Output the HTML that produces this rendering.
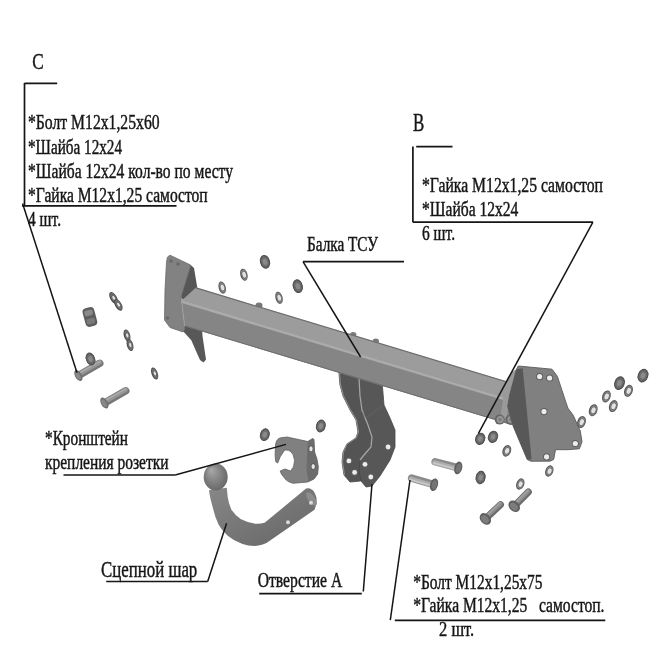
<!DOCTYPE html>
<html><head><meta charset="utf-8"><style>
html,body{margin:0;padding:0;background:#fff;}
svg{display:block;filter:grayscale(1);}
text{font-family:"Liberation Serif",serif;fill:#161616;stroke:#161616;stroke-width:0.45px;}
</style></head><body>
<svg width="650" height="650" viewBox="0 0 650 650">
<rect width="650" height="650" fill="#fff"/>
<g transform="rotate(-15 222.2 287.6)"><ellipse cx="222.2" cy="287.6" rx="3.6" ry="6.2" fill="#5a5a5a"/><ellipse cx="222.39999999999998" cy="287.6" rx="2.6" ry="5.2" fill="#848484"/><ellipse cx="222.5" cy="287.6" rx="2.3" ry="3.6" fill="#606060"/><ellipse cx="222.5" cy="287.6" rx="1.8" ry="3.1" fill="#e2e2e2"/></g>
<g transform="rotate(-15 243.9 274.7)"><ellipse cx="243.9" cy="274.7" rx="3.6" ry="6.2" fill="#5a5a5a"/><ellipse cx="244.1" cy="274.7" rx="2.6" ry="5.2" fill="#848484"/><ellipse cx="244.20000000000002" cy="274.7" rx="2.3" ry="3.6" fill="#606060"/><ellipse cx="244.20000000000002" cy="274.7" rx="1.8" ry="3.1" fill="#e2e2e2"/></g>
<g transform="rotate(-15 265 261.8)"><ellipse cx="265" cy="261.8" rx="5" ry="7" fill="#505050"/><polygon points="269.0,265.1 265.0,268.3 261.0,265.1 261.0,258.5 265.0,255.3 269.0,258.5" fill="#6c6c6c" stroke="#555" stroke-width="0.8"/><ellipse cx="265" cy="261.8" rx="2.25" ry="3.15" fill="#8a8a8a"/></g>
<g transform="rotate(-15 279 297.8)"><ellipse cx="279" cy="297.8" rx="3.6" ry="6.2" fill="#5a5a5a"/><ellipse cx="279.2" cy="297.8" rx="2.6" ry="5.2" fill="#848484"/><ellipse cx="279.3" cy="297.8" rx="2.3" ry="3.6" fill="#606060"/><ellipse cx="279.3" cy="297.8" rx="1.8" ry="3.1" fill="#e2e2e2"/></g>
<g transform="rotate(-15 297.8 286.2)"><ellipse cx="297.8" cy="286.2" rx="5" ry="7" fill="#505050"/><polygon points="301.8,289.5 297.8,292.7 293.8,289.5 293.8,282.9 297.8,279.7 301.8,282.9" fill="#6c6c6c" stroke="#555" stroke-width="0.8"/><ellipse cx="297.8" cy="286.2" rx="2.25" ry="3.15" fill="#8a8a8a"/></g>
<ellipse cx="259" cy="305.5" rx="3.5" ry="3" fill="#777"/>
<ellipse cx="353.2" cy="334.5" rx="3.2" ry="2.6" fill="#7a7a7a"/>
<ellipse cx="375.8" cy="341" rx="3.2" ry="2.6" fill="#7a7a7a"/>
<polygon points="181.7,322.0 195.0,325.0 202.0,328.0 202.5,336.0 206.0,359.5 203.5,362.5 200.0,360.0 196.0,351.0 191.3,340.2 182.0,330.0" fill="#585858" stroke="none" stroke-width="0" stroke-linejoin="round" />
<polygon points="189.5,264.0 194.0,268.0 197.5,289.0 183.0,300.0 181.0,297.0" fill="#565656" stroke="none" stroke-width="0" stroke-linejoin="round" />
<polygon points="170.0,255.2 189.5,264.5 190.5,266.5 181.0,297.0 185.0,329.0 183.0,332.0 170.0,327.5 164.5,320.0 165.0,290.0 166.5,262.0 167.5,257.0" fill="#828282" stroke="#6a6a6a" stroke-width="0.8" stroke-linejoin="round" />
<circle cx="171" cy="261" r="1.8" fill="#6a6a6a"/><circle cx="178" cy="264" r="1.8" fill="#6a6a6a"/><circle cx="167.5" cy="318" r="1.8" fill="#6a6a6a"/>
<polygon points="338.5,368.0 361.0,372.0 372.0,420.0 378.0,445.0 368.0,480.0 356.0,481.5 350.0,482.0 344.0,475.0 342.0,462.0 343.0,452.0 347.0,444.0 356.0,438.0 358.0,432.0 356.0,420.0 350.0,410.0 343.0,396.0 340.0,385.0" fill="#545454" stroke="#484848" stroke-width="0.8" stroke-linejoin="round" />
<polygon points="359.0,374.0 382.0,381.0 384.0,405.0 390.0,418.0 395.0,430.0 395.0,447.0 390.0,460.0 380.0,476.0 372.0,486.0 366.0,487.0 361.0,481.0 359.0,470.0 360.0,460.0 364.0,455.0 371.0,447.0 372.0,437.0 368.0,425.0 362.0,410.0 360.0,396.0" fill="#575757" stroke="#484848" stroke-width="0.8" stroke-linejoin="round" />
<polyline points="339.5,372 340.5,385 343.5,396 350.5,410 356.5,420 358.5,432 356,438 347,444 343.5,452 342.5,462 344.5,475" fill="none" stroke="#8c8c8c" stroke-width="1.1"/>
<polyline points="359,378 360,396 362,410 368,425 372,437 371,447 364,455 360,460" fill="none" stroke="#a5a5a5" stroke-width="1.3"/>
<polyline points="362,412 366,418 382,406" fill="none" stroke="#666" stroke-width="0.8"/>
<circle cx="348.9" cy="460.9" r="3.4" fill="#5e5e5e"/><circle cx="348.9" cy="460.9" r="2.4" fill="#ececec"/>
<circle cx="354.6" cy="472.4" r="3.4" fill="#5e5e5e"/><circle cx="354.6" cy="472.4" r="2.4" fill="#ececec"/>
<circle cx="365" cy="464.3" r="3.4" fill="#5e5e5e"/><circle cx="365" cy="464.3" r="2.4" fill="#ececec"/>
<circle cx="370.8" cy="477" r="3.4" fill="#5e5e5e"/><circle cx="370.8" cy="477" r="2.4" fill="#ececec"/>
<circle cx="388.1" cy="447" r="3.4" fill="#5e5e5e"/><circle cx="388.1" cy="447" r="2.4" fill="#ececec"/>
<polygon points="196.0,287.6 512.0,383.1 512.0,400.6 181.5,300.8" fill="#9c9c9c" stroke="none" stroke-width="0" stroke-linejoin="round" />
<polygon points="181.5,300.8 512.0,400.6 512.0,425.1 184.6,326.2" fill="#858585" stroke="none" stroke-width="0" stroke-linejoin="round" />
<line x1="196" y1="287.932" x2="512" y2="383.36400000000003" stroke="#6e6e6e" stroke-width="1.2"/>
<line x1="181.5" y1="301.753" x2="512" y2="401.56399999999996" stroke="#ababab" stroke-width="2.2"/>
<line x1="184.6" y1="325.6892" x2="512" y2="424.56399999999996" stroke="#6e6e6e" stroke-width="1.0"/>
<line x1="181.5" y1="300.253" x2="184.6" y2="326.1892" stroke="#a4a4a4" stroke-width="1.0"/>
<polygon points="504.0,383.5 512.0,372.0 516.5,369.2 509.5,395.7 507.7,410.0 506.0,421.0 500.0,419.0 503.0,400.0" fill="#9a9a9a" stroke="none" stroke-width="0" stroke-linejoin="round" />
<circle cx="499.7" cy="419.6" r="5" fill="#656565"/><circle cx="500.2" cy="419.6" r="3.6" fill="#949494"/><circle cx="500.2" cy="419.6" r="1.6" fill="#7a7a7a"/>
<circle cx="510.4" cy="419.6" r="5" fill="#656565"/><circle cx="510.9" cy="419.6" r="3.6" fill="#949494"/><circle cx="510.9" cy="419.6" r="1.6" fill="#7a7a7a"/>
<polygon points="518.3,366.0 552.0,369.2 557.3,376.2 566.1,402.8 567.9,408.1 573.2,415.2 580.3,431.1 582.0,441.7 579.4,448.8 567.9,449.7 555.5,449.7 553.7,459.4 550.2,461.2 530.7,461.2 527.2,459.4 513.0,425.8 507.7,406.3 509.5,395.7 516.5,369.2" fill="#808080" stroke="#5a5a5a" stroke-width="0.9" stroke-linejoin="round" />
<polygon points="516.5,369.2 522.7,368.3 531.6,459.4 527.2,459.4 513.0,425.8 507.7,406.3 509.5,395.7" fill="#585858" stroke="none" stroke-width="0" stroke-linejoin="round" />
<circle cx="539.6" cy="376.6" r="3.6" fill="#5e5e5e"/><circle cx="539.6" cy="376.6" r="2.6" fill="#ececec"/>
<circle cx="549.6" cy="378" r="3.6" fill="#5e5e5e"/><circle cx="549.6" cy="378" r="2.6" fill="#ececec"/>
<circle cx="544" cy="411.6" r="3.6" fill="#5e5e5e"/><circle cx="544" cy="411.6" r="2.6" fill="#ececec"/>
<circle cx="575.3" cy="443.5" r="3.6" fill="#5e5e5e"/><circle cx="575.3" cy="443.5" r="2.6" fill="#ececec"/>
<circle cx="546.6" cy="456.8" r="3.6" fill="#5e5e5e"/><circle cx="546.6" cy="456.8" r="2.6" fill="#ececec"/>
<path d="M275.8,443.3 Q277,438.5 280.8,437.8 L287,437 L307.8,441.5 L312.8,438.4 L314,439.6 L314.6,452 L317,459.3 L318.3,466.7 L317.7,474 L314,479 L307.8,482 L293,483.3 Q288,482 285.7,479.6 L281.4,474 L280.2,471 L285,469 L290.6,471 Q293.7,467 293.7,465.5 Q295,460 294.3,459.3 Q293.5,454 291.2,452 Q288.5,449.5 285.7,450 Q283,451 282.6,453.2 L280.2,456.8 L277.7,463 L275.8,461.8 Q274.8,456 275.2,452 Z" fill="#808080" stroke="#606060" stroke-width="0.8"/>
<path d="M307.8,441.5 L312.8,438.4 L314,439.6 L314.6,452 L317,459.3 L318.3,466.7 L317.7,474 L314,479 L308.5,481.5 L306.5,470 L307,455 Z" fill="#6c6c6c"/>
<ellipse cx="311" cy="448.8" rx="2.4" ry="3.3" fill="#5a5a5a"/><ellipse cx="311" cy="448.8" rx="1.7" ry="2.6" fill="#e6e6e6"/>
<ellipse cx="313.2" cy="466.5" rx="2.4" ry="3.3" fill="#5a5a5a"/><ellipse cx="313.2" cy="466.5" rx="1.7" ry="2.6" fill="#e6e6e6"/>
<defs><linearGradient id="gh" x1="0" y1="0" x2="1" y2="1"><stop offset="0" stop-color="#878787"/><stop offset="1" stop-color="#656565"/></linearGradient><radialGradient id="gb" cx="0.5" cy="0.5" r="0.6" fx="0.3" fy="0.22"><stop offset="0" stop-color="#aaaaaa"/><stop offset="0.45" stop-color="#888888"/><stop offset="1" stop-color="#626262"/></radialGradient></defs>
<path d="M209.2,490 L209.2,492.3 Q210.5,500 212.9,508 Q215,517 218.5,524.6 Q222,531 227.7,535.7 Q234,541 242.5,544 Q250,546.5 257.2,545.8 Q262,545 266.5,543 L314.5,509.8 Q317.5,503 316.3,497 Q314.5,491 311.7,489.5 Q309,487.5 306.1,488.6 L264.6,522.8 Q260,524 255.4,523.7 Q247,522.5 240.6,519 Q235,515 231.4,509.8 Q228.5,503 227.7,496.9 L226.8,487.7 Z" fill="url(#gh)"/>
<ellipse cx="215.7" cy="477" rx="12" ry="13.4" fill="url(#gb)"/>
<ellipse cx="311.5" cy="499" rx="3.5" ry="8" transform="rotate(-35 311.5 499)" fill="#8c8c8c"/>
<circle cx="311" cy="502.8" r="2" fill="#d8d8d8"/>
<circle cx="288" cy="522.2" r="2" fill="#d8d8d8"/>
<g transform="rotate(-15 89.9 317)"><rect x="83.9" y="307.5" width="12" height="19" rx="4" fill="#5e5e5e"/><rect x="85.5" y="310" width="8.5" height="5.5" rx="2" fill="#8a8a8a"/><rect x="85.5" y="318.5" width="8.5" height="5.5" rx="2" fill="#7a7a7a"/></g>
<g transform="rotate(-30 113.5 298)"><ellipse cx="113.5" cy="298" rx="3.3" ry="6.5" fill="#4e4e4e"/><ellipse cx="113.7" cy="298" rx="2.3" ry="5.5" fill="#707070"/><ellipse cx="113.8" cy="298" rx="1.6549999999999998" ry="2.775" fill="#606060"/><ellipse cx="113.8" cy="298" rx="1.1549999999999998" ry="2.275" fill="#e2e2e2"/></g>
<g transform="rotate(-30 118.3 304.8)"><ellipse cx="118.3" cy="304.8" rx="3.3" ry="6.5" fill="#4e4e4e"/><ellipse cx="118.5" cy="304.8" rx="2.3" ry="5.5" fill="#707070"/><ellipse cx="118.6" cy="304.8" rx="1.6549999999999998" ry="2.775" fill="#606060"/><ellipse cx="118.6" cy="304.8" rx="1.1549999999999998" ry="2.275" fill="#e2e2e2"/></g>
<g transform="rotate(-15 127 335.5)"><ellipse cx="127" cy="335.5" rx="3.2" ry="6.2" fill="#4e4e4e"/><ellipse cx="127.2" cy="335.5" rx="2.2" ry="5.2" fill="#707070"/><ellipse cx="127.3" cy="335.5" rx="1.6199999999999999" ry="2.67" fill="#606060"/><ellipse cx="127.3" cy="335.5" rx="1.1199999999999999" ry="2.17" fill="#e2e2e2"/></g>
<g transform="rotate(-15 130 345)"><ellipse cx="130" cy="345" rx="3.2" ry="6.2" fill="#4e4e4e"/><ellipse cx="130.2" cy="345" rx="2.2" ry="5.2" fill="#707070"/><ellipse cx="130.3" cy="345" rx="1.6199999999999999" ry="2.67" fill="#606060"/><ellipse cx="130.3" cy="345" rx="1.1199999999999999" ry="2.17" fill="#e2e2e2"/></g>
<g transform="rotate(-20 154.6 373.5)"><ellipse cx="154.6" cy="373.5" rx="3.1" ry="6.3" fill="#4e4e4e"/><ellipse cx="154.79999999999998" cy="373.5" rx="2.1" ry="5.3" fill="#707070"/><ellipse cx="154.9" cy="373.5" rx="1.585" ry="2.7049999999999996" fill="#606060"/><ellipse cx="154.9" cy="373.5" rx="1.085" ry="2.2049999999999996" fill="#e2e2e2"/></g>
<g transform="translate(77.5 376) rotate(-29.6)"><rect x="0" y="-3.75" width="29.33428028774526" height="7.5" rx="3.75" fill="#777777"/><rect x="0.5" y="-3.15" width="27.83428028774526" height="4.5" rx="2.25" fill="#969696"/><rect x="1" y="-2.55" width="26.33428028774526" height="1.65" rx="0.75" fill="#acacac"/><ellipse cx="1" cy="0" rx="3.3000000000000003" ry="6" fill="#6e6e6e"/><ellipse cx="0.6" cy="0" rx="2.1780000000000004" ry="4.199999999999999" fill="#888888"/></g>
<g transform="rotate(-20 90.5 359)"><ellipse cx="90.5" cy="359" rx="4.6" ry="6.6" fill="#505050"/><polygon points="94.2,362.1 90.5,365.1 86.8,362.1 86.8,355.9 90.5,352.9 94.2,355.9" fill="#6c6c6c" stroke="#555" stroke-width="0.8"/><ellipse cx="90.5" cy="359" rx="2.07" ry="2.9699999999999998" fill="#8a8a8a"/></g>
<g transform="translate(103.5 403.5) rotate(-29.6)"><rect x="0" y="-3.75" width="29.33428028774526" height="7.5" rx="3.75" fill="#777777"/><rect x="0.5" y="-3.15" width="27.83428028774526" height="4.5" rx="2.25" fill="#969696"/><rect x="1" y="-2.55" width="26.33428028774526" height="1.65" rx="0.75" fill="#acacac"/><ellipse cx="1" cy="0" rx="3.3000000000000003" ry="6" fill="#6e6e6e"/><ellipse cx="0.6" cy="0" rx="2.1780000000000004" ry="4.199999999999999" fill="#888888"/></g>
<g transform="rotate(20 581.5 422)"><ellipse cx="581.5" cy="422" rx="4.2" ry="6.2" fill="#5a5a5a"/><ellipse cx="581.7" cy="422" rx="3.2" ry="5.2" fill="#848484"/><ellipse cx="581.8" cy="422" rx="2.6" ry="3.6" fill="#606060"/><ellipse cx="581.8" cy="422" rx="2.1" ry="3.1" fill="#e2e2e2"/></g>
<g transform="rotate(20 593.2 410.2)"><ellipse cx="593.2" cy="410.2" rx="4.2" ry="6.2" fill="#5a5a5a"/><ellipse cx="593.4000000000001" cy="410.2" rx="3.2" ry="5.2" fill="#848484"/><ellipse cx="593.5" cy="410.2" rx="2.6" ry="3.6" fill="#606060"/><ellipse cx="593.5" cy="410.2" rx="2.1" ry="3.1" fill="#e2e2e2"/></g>
<g transform="rotate(20 606.4 396.4)"><ellipse cx="606.4" cy="396.4" rx="4.2" ry="6.2" fill="#5a5a5a"/><ellipse cx="606.6" cy="396.4" rx="3.2" ry="5.2" fill="#848484"/><ellipse cx="606.6999999999999" cy="396.4" rx="2.6" ry="3.6" fill="#606060"/><ellipse cx="606.6999999999999" cy="396.4" rx="2.1" ry="3.1" fill="#e2e2e2"/></g>
<g transform="rotate(20 613.3 406.1)"><ellipse cx="613.3" cy="406.1" rx="4.2" ry="6.2" fill="#5a5a5a"/><ellipse cx="613.5" cy="406.1" rx="3.2" ry="5.2" fill="#848484"/><ellipse cx="613.5999999999999" cy="406.1" rx="2.6" ry="3.6" fill="#606060"/><ellipse cx="613.5999999999999" cy="406.1" rx="2.1" ry="3.1" fill="#e2e2e2"/></g>
<g transform="rotate(20 619.5 383.2)"><ellipse cx="619.5" cy="383.2" rx="5.2" ry="7" fill="#505050"/><polygon points="623.7,386.5 619.5,389.7 615.3,386.5 615.3,379.9 619.5,376.7 623.7,379.9" fill="#6c6c6c" stroke="#555" stroke-width="0.8"/><ellipse cx="619.5" cy="383.2" rx="2.3400000000000003" ry="3.15" fill="#8a8a8a"/></g>
<g transform="rotate(20 628.5 390.8)"><ellipse cx="628.5" cy="390.8" rx="4.2" ry="6.2" fill="#5a5a5a"/><ellipse cx="628.7" cy="390.8" rx="3.2" ry="5.2" fill="#848484"/><ellipse cx="628.8" cy="390.8" rx="2.6" ry="3.6" fill="#606060"/><ellipse cx="628.8" cy="390.8" rx="2.1" ry="3.1" fill="#e2e2e2"/></g>
<g transform="rotate(20 643 375.6)"><ellipse cx="643" cy="375.6" rx="5.2" ry="7" fill="#505050"/><polygon points="647.2,378.9 643.0,382.1 638.8,378.9 638.8,372.3 643.0,369.1 647.2,372.3" fill="#6c6c6c" stroke="#555" stroke-width="0.8"/><ellipse cx="643" cy="375.6" rx="2.3400000000000003" ry="3.15" fill="#8a8a8a"/></g>
<g transform="rotate(20 480.2 438.8)"><ellipse cx="480.2" cy="438.8" rx="5" ry="6.2" fill="#505050"/><polygon points="484.2,441.7 480.2,444.6 476.2,441.7 476.2,435.9 480.2,433.0 484.2,435.9" fill="#6c6c6c" stroke="#555" stroke-width="0.8"/><ellipse cx="480.2" cy="438.8" rx="2.25" ry="2.79" fill="#8a8a8a"/></g>
<g transform="rotate(20 493 436.9)"><ellipse cx="493" cy="436.9" rx="5" ry="6.2" fill="#505050"/><polygon points="497.0,439.8 493.0,442.7 489.0,439.8 489.0,434.0 493.0,431.1 497.0,434.0" fill="#6c6c6c" stroke="#555" stroke-width="0.8"/><ellipse cx="493" cy="436.9" rx="2.25" ry="2.79" fill="#8a8a8a"/></g>
<g transform="rotate(20 506.8 450.8)"><ellipse cx="506.8" cy="450.8" rx="4.2" ry="6" fill="#5a5a5a"/><ellipse cx="507.0" cy="450.8" rx="3.2" ry="5.0" fill="#848484"/><ellipse cx="507.1" cy="450.8" rx="2.6" ry="3.5" fill="#606060"/><ellipse cx="507.1" cy="450.8" rx="2.1" ry="3.0" fill="#e2e2e2"/></g>
<g transform="rotate(20 549.3 471)"><ellipse cx="549.3" cy="471" rx="4" ry="5.8" fill="#5a5a5a"/><ellipse cx="549.5" cy="471" rx="3.0" ry="4.8" fill="#848484"/><ellipse cx="549.5999999999999" cy="471" rx="2.5" ry="3.4" fill="#606060"/><ellipse cx="549.5999999999999" cy="471" rx="2.0" ry="2.9" fill="#e2e2e2"/></g>
<g transform="rotate(10 480.6 477.5)"><ellipse cx="480.6" cy="477.5" rx="5" ry="6.8" fill="#505050"/><polygon points="484.6,480.7 480.6,483.8 476.6,480.7 476.6,474.3 480.6,471.2 484.6,474.3" fill="#6c6c6c" stroke="#555" stroke-width="0.8"/><ellipse cx="480.6" cy="477.5" rx="2.25" ry="3.06" fill="#8a8a8a"/></g>
<g transform="rotate(20 520.3 484)"><ellipse cx="520.3" cy="484" rx="4" ry="5.8" fill="#5a5a5a"/><ellipse cx="520.5" cy="484" rx="3.0" ry="4.8" fill="#848484"/><ellipse cx="520.5999999999999" cy="484" rx="2.5" ry="3.4" fill="#606060"/><ellipse cx="520.5999999999999" cy="484" rx="2.0" ry="2.9" fill="#e2e2e2"/></g>
<g transform="translate(459.2 468.2) rotate(-165.0)"><rect x="0" y="-3.75" width="28.671414335536344" height="7.5" rx="3.75" fill="#8a8a8a"/><rect x="0.5" y="-3.15" width="27.171414335536344" height="4.5" rx="2.25" fill="#aeaeae"/><rect x="1" y="-2.55" width="25.671414335536344" height="1.65" rx="0.75" fill="#c8c8c8"/><ellipse cx="1" cy="0" rx="3.9" ry="6.5" fill="#5e5e5e"/><ellipse cx="0.6" cy="0" rx="2.574" ry="4.55" fill="#757575"/></g>
<g transform="translate(435 485) rotate(-163.5)"><rect x="0" y="-3.75" width="28.160255680657446" height="7.5" rx="3.75" fill="#8a8a8a"/><rect x="0.5" y="-3.15" width="26.660255680657446" height="4.5" rx="2.25" fill="#aeaeae"/><rect x="1" y="-2.55" width="25.160255680657446" height="1.65" rx="0.75" fill="#c8c8c8"/><ellipse cx="1" cy="0" rx="3.9" ry="6.5" fill="#5e5e5e"/><ellipse cx="0.6" cy="0" rx="2.574" ry="4.55" fill="#757575"/></g>
<g transform="translate(484.6 519.6) rotate(-43.2)"><rect x="0" y="-3.5" width="25.255692427648853" height="7" rx="3.5" fill="#6c6c6c"/><rect x="0.5" y="-2.9" width="23.755692427648853" height="4.2" rx="2.1" fill="#8e8e8e"/><rect x="1" y="-2.3" width="22.255692427648853" height="1.54" rx="0.7000000000000001" fill="#a2a2a2"/><ellipse cx="1" cy="0" rx="4.875" ry="6.5" fill="#5f5f5f"/><ellipse cx="0.6" cy="0" rx="3.2175000000000002" ry="4.55" fill="#7c7c7c"/></g>
<g transform="translate(513.5 507) rotate(-45.2)"><rect x="0" y="-3.5" width="24.53670719554679" height="7" rx="3.5" fill="#6c6c6c"/><rect x="0.5" y="-2.9" width="23.03670719554679" height="4.2" rx="2.1" fill="#8e8e8e"/><rect x="1" y="-2.3" width="21.53670719554679" height="1.54" rx="0.7000000000000001" fill="#a2a2a2"/><ellipse cx="1" cy="0" rx="4.875" ry="6.5" fill="#5f5f5f"/><ellipse cx="0.6" cy="0" rx="3.2175000000000002" ry="4.55" fill="#7c7c7c"/></g>
<g transform="rotate(15 264.8 434.7)"><ellipse cx="264.8" cy="434.7" rx="4.8" ry="6.5" fill="#505050"/><polygon points="268.7,437.7 264.8,440.7 260.9,437.7 260.9,431.7 264.8,428.7 268.7,431.7" fill="#6c6c6c" stroke="#555" stroke-width="0.8"/><ellipse cx="264.8" cy="434.7" rx="2.16" ry="2.9250000000000003" fill="#8a8a8a"/></g>
<g transform="rotate(15 320.8 426)"><ellipse cx="320.8" cy="426" rx="4.8" ry="6.5" fill="#505050"/><polygon points="324.7,429.0 320.8,432.0 316.9,429.0 316.9,423.0 320.8,420.0 324.7,423.0" fill="#6c6c6c" stroke="#555" stroke-width="0.8"/><ellipse cx="320.8" cy="426" rx="2.16" ry="2.9250000000000003" fill="#8a8a8a"/></g>
<line x1="24.5" y1="83.4" x2="57.2" y2="83.4" stroke="#151515" stroke-width="1.7"/>
<line x1="24.5" y1="83" x2="24.5" y2="205.8" stroke="#151515" stroke-width="1.7"/>
<line x1="22" y1="205.8" x2="176.5" y2="205.8" stroke="#151515" stroke-width="1.7"/>
<line x1="22.6" y1="203.6" x2="77" y2="372.7" stroke="#151515" stroke-width="1.5"/>
<line x1="412.9" y1="146.6" x2="412.9" y2="222.2" stroke="#151515" stroke-width="1.7"/>
<line x1="416.2" y1="146.6" x2="452.5" y2="146.6" stroke="#151515" stroke-width="1.7"/>
<line x1="412.9" y1="222.2" x2="592.9" y2="222.2" stroke="#151515" stroke-width="1.7"/>
<line x1="592.9" y1="222.2" x2="478.3" y2="433.7" stroke="#151515" stroke-width="1.5"/>
<line x1="303" y1="261.6" x2="404" y2="261.6" stroke="#151515" stroke-width="1.7"/>
<line x1="303" y1="261.6" x2="360.6" y2="357" stroke="#151515" stroke-width="1.5"/>
<line x1="63.5" y1="475" x2="175.2" y2="475" stroke="#151515" stroke-width="1.7"/>
<line x1="175.2" y1="475" x2="286" y2="444.4" stroke="#151515" stroke-width="1.4"/>
<line x1="106.2" y1="581.5" x2="207.7" y2="581.5" stroke="#151515" stroke-width="1.7"/>
<line x1="207.7" y1="581.5" x2="226.6" y2="523.2" stroke="#151515" stroke-width="1.5"/>
<line x1="259.2" y1="593.7" x2="361.8" y2="593.7" stroke="#151515" stroke-width="1.7"/>
<line x1="363.3" y1="591.5" x2="372" y2="484" stroke="#151515" stroke-width="1.5"/>
<line x1="394.8" y1="620.3" x2="605.3" y2="620.3" stroke="#151515" stroke-width="1.7"/>
<line x1="390.3" y1="620.2" x2="410" y2="480" stroke="#151515" stroke-width="1.5"/>
<text x="32.3" y="68.6" font-size="22.5" textLength="11.4" lengthAdjust="spacingAndGlyphs">C</text>
<text x="28" y="128.8" font-size="20" textLength="131.6" lengthAdjust="spacingAndGlyphs">*Болт М12х1,25х60</text>
<text x="28" y="153.5" font-size="20" textLength="94" lengthAdjust="spacingAndGlyphs">*Шайба 12х24</text>
<text x="28" y="177.5" font-size="20" textLength="205" lengthAdjust="spacingAndGlyphs">*Шайба 12х24 кол-во по месту</text>
<text x="28" y="201.5" font-size="20" textLength="179.7" lengthAdjust="spacingAndGlyphs">*Гайка М12х1,25 самостоп</text>
<text x="28" y="226" font-size="20" textLength="33" lengthAdjust="spacingAndGlyphs">4 шт.</text>
<text x="412.9" y="130.9" font-size="26" textLength="11.3" lengthAdjust="spacingAndGlyphs">B</text>
<text x="422" y="192.3" font-size="20" textLength="181" lengthAdjust="spacingAndGlyphs">*Гайка М12х1,25 самостоп</text>
<text x="422" y="215.7" font-size="20" textLength="96.4" lengthAdjust="spacingAndGlyphs">*Шайба 12х24</text>
<text x="422" y="240" font-size="20" textLength="33" lengthAdjust="spacingAndGlyphs">6 шт.</text>
<text x="307" y="251" font-size="20" textLength="71" lengthAdjust="spacingAndGlyphs">Балка ТСУ</text>
<text x="45" y="445" font-size="20" textLength="83" lengthAdjust="spacingAndGlyphs">*Кронштейн</text>
<text x="45" y="468.5" font-size="20" textLength="123.5" lengthAdjust="spacingAndGlyphs">крепления розетки</text>
<text x="101" y="577" font-size="23" textLength="96.3" lengthAdjust="spacingAndGlyphs">Сцепной шар</text>
<text x="257.7" y="586.9" font-size="20" textLength="84.5" lengthAdjust="spacingAndGlyphs">Отверстие А</text>
<text x="413.2" y="588.8" font-size="20" textLength="129.3" lengthAdjust="spacingAndGlyphs">*Болт М12х1,25х75</text>
<text x="413.2" y="611.7" font-size="20" textLength="191.3" lengthAdjust="spacingAndGlyphs" style="white-space:pre">*Гайка М12х1,25   самостоп.</text>
<text x="439" y="636" font-size="20" textLength="35.2" lengthAdjust="spacingAndGlyphs">2 шт.</text>
</svg>
</body></html>
